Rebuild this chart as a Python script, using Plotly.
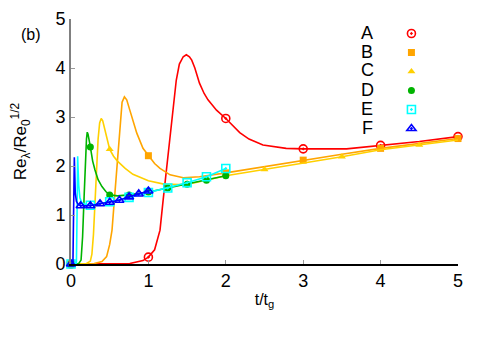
import plotly.graph_objects as go

# ---------------- data ----------------
series_names = ["A", "B", "C", "D", "E", "F"]

A_line_x = [0, 0.5, 0.76, 0.93, 1.0, 1.08, 1.15, 1.19, 1.23, 1.28, 1.32, 1.36, 1.40, 1.45, 1.49, 1.53, 1.56, 1.60, 1.66, 1.72, 1.77, 1.88, 2.0, 2.18, 2.3, 2.48, 2.78, 3.0, 3.56, 4.0, 4.5, 5.0]
A_line_y = [0, 0.0, 0.01, 0.07, 0.14, 0.29, 0.69, 1.3, 1.9, 2.53, 3.2, 3.75, 4.08, 4.23, 4.27, 4.23, 4.16, 4.0, 3.69, 3.48, 3.35, 3.14, 2.97, 2.68, 2.55, 2.43, 2.36, 2.35, 2.35, 2.42, 2.5, 2.6]
A_mark_x = [0, 1, 2, 3, 4, 5]
A_mark_y = [0, 0.14, 2.97, 2.35, 2.42, 2.6]

B_line_x = [0, 0.3, 0.4, 0.46, 0.5, 0.53, 0.55, 0.57, 0.59, 0.62, 0.66, 0.69, 0.72, 0.76, 0.8, 0.85, 0.93, 1.0, 1.08, 1.15, 1.28, 1.45, 1.66, 2.0, 2.5, 3.0, 3.5, 4.0, 4.5, 5.0]
B_line_y = [0, 0.01, 0.05, 0.15, 0.4, 0.69, 1.1, 1.51, 1.92, 2.6, 3.3, 3.41, 3.35, 3.14, 2.92, 2.67, 2.36, 2.21, 2.05, 1.95, 1.82, 1.76, 1.78, 1.86, 1.99, 2.12, 2.24, 2.36, 2.46, 2.56]
B_mark_x = [0, 1, 2, 3, 4, 5]
B_mark_y = [0, 2.21, 1.86, 2.12, 2.36, 2.56]

C_line_x = [0, 0.2, 0.25, 0.27, 0.29, 0.31, 0.33, 0.35, 0.37, 0.39, 0.41, 0.44, 0.47, 0.5, 0.55, 0.6, 0.7, 0.8, 1.0, 1.2, 1.4, 1.6, 2.0, 2.5, 3.0, 3.5, 4.0, 4.5, 5.0]
C_line_y = [0, 0.01, 0.06, 0.2, 0.6, 1.24, 1.95, 2.55, 2.88, 2.97, 2.92, 2.72, 2.5, 2.34, 2.2, 2.1, 1.95, 1.83, 1.7, 1.63, 1.62, 1.66, 1.8, 1.93, 2.05, 2.19, 2.33, 2.43, 2.53]
C_mark_x = [0, 0.5, 1.5, 2.5, 3.5, 4.5]
C_mark_y = [0, 2.34, 1.64, 1.93, 2.19, 2.43]

D_line_x = [0, 0.1, 0.13, 0.15, 0.17, 0.18, 0.2, 0.21, 0.22, 0.25, 0.28, 0.31, 0.35, 0.4, 0.45, 0.5, 0.6, 0.75, 1.0, 1.25, 1.5, 1.75, 2.0]
D_line_y = [0, 0.01, 0.08, 0.56, 1.4, 1.92, 2.55, 2.69, 2.65, 2.39, 2.1, 1.92, 1.72, 1.58, 1.48, 1.41, 1.39, 1.41, 1.47, 1.55, 1.63, 1.71, 1.80]
D_mark_x = [0, 0.25, 0.5, 0.75, 1.0, 1.25, 1.5, 1.75, 2.0]
D_mark_y = [0, 2.39, 1.41, 1.41, 1.47, 1.55, 1.63, 1.71, 1.80]

E_line_x = [0, 0.07, 0.078, 0.082, 0.086, 0.09, 0.1, 0.115, 0.14, 0.2, 0.25, 0.5, 0.75, 1.0, 1.25, 1.5, 1.75, 2.0]
E_line_y = [0, 0.02, 1.0, 2.0, 2.2, 2.0, 1.6, 1.35, 1.25, 1.21, 1.2, 1.27, 1.36, 1.46, 1.55, 1.66, 1.78, 1.95]
E_mark_x = [0, 0.25, 0.5, 0.75, 1.0, 1.25, 1.5, 1.75, 2.0]
E_mark_y = [0, 1.2, 1.27, 1.36, 1.46, 1.55, 1.66, 1.78, 1.95]

F_line_x = [0, 0.025, 0.033, 0.038, 0.043, 0.048, 0.055, 0.07, 0.09, 0.125, 0.25, 0.375, 0.5, 0.625, 0.75, 0.875, 1.0]
F_line_y = [0, 0.02, 1.0, 2.0, 2.18, 1.9, 1.45, 1.28, 1.22, 1.19, 1.19, 1.23, 1.26, 1.3, 1.37, 1.43, 1.49]
F_mark_x = [0, 0.125, 0.25, 0.375, 0.5, 0.625, 0.75, 0.875, 1.0]
F_mark_y = [0, 1.19, 1.19, 1.23, 1.26, 1.3, 1.37, 1.43, 1.49]

x_ticks = [0, 1, 2, 3, 4, 5]
y_ticks = [0, 1, 2, 3, 4, 5]

# ---------------- styling ----------------
colors = {"A": "#FF0000", "B": "#FFA500", "C": "#FFD000", "D": "#00B400", "E": "#00FFFF", "F": "#0000FF"}
symbols = {"A": "circle-open-dot", "B": "square", "C": "triangle-up", "D": "circle",
           "E": "square-open-dot", "F": "triangle-up-open-dot"}
msize = {"A": 8, "B": 7, "C": 7, "D": 7, "E": 8, "F": 8}

data = {
    "A": (A_line_x, A_line_y, A_mark_x, A_mark_y),
    "B": (B_line_x, B_line_y, B_mark_x, B_mark_y),
    "C": (C_line_x, C_line_y, C_mark_x, C_mark_y),
    "D": (D_line_x, D_line_y, D_mark_x, D_mark_y),
    "E": (E_line_x, E_line_y, E_mark_x, E_mark_y),
    "F": (F_line_x, F_line_y, F_mark_x, F_mark_y),
}

FONT = "Liberation Sans, Arial, sans-serif"
fig = go.Figure()
for name in series_names:
    lx, ly, mx, my = data[name]
    c = colors[name]
    fig.add_trace(go.Scatter(x=lx, y=ly, mode="lines", line=dict(color=c, width=1.6),
                             showlegend=False, cliponaxis=False, hoverinfo="skip"))
    open_sym = "open" in symbols[name]
    # legend entry shows only the symbol; the letter is drawn to its left
    fig.add_trace(go.Scatter(
        x=mx, y=my, mode="markers", name="", cliponaxis=False,
        marker=dict(symbol=symbols[name], size=msize[name], color=c,
                    line=dict(color=c, width=1.6 if open_sym else 0)),
    ))

fig.update_layout(
    width=493, height=345,
    margin=dict(l=71, r=35, t=19, b=81),
    plot_bgcolor="white", paper_bgcolor="white",
    font=dict(family=FONT, size=18, color="black"),
    showlegend=True,
    legend=dict(x=0.828, y=1.0, xanchor="left", yanchor="top",
                bgcolor="rgba(0,0,0,0)", font=dict(size=12),
                itemwidth=30),
    xaxis=dict(range=[0, 5], tickvals=x_ticks, ticks="inside", ticklen=4, tickcolor="#999999",
               showline=True, linecolor="black", linewidth=1.5, showgrid=False, zeroline=False,
               tickfont=dict(size=18), automargin=False,
               title=dict(text="t/t<sub>g</sub>", font=dict(size=16), standoff=3)),
    yaxis=dict(range=[0, 5], tickvals=y_ticks, ticks="inside", ticklen=4, tickcolor="#999999",
               showline=True, linecolor="#808080", linewidth=2, showgrid=False, zeroline=False,
               tickfont=dict(size=18), automargin=False,
               title=dict(text="Re<sub>λ</sub>/Re<sub>0</sub><sup>1/2</sup>", font=dict(size=17), standoff=24)),
    xaxis2=dict(range=[0, 5], tickvals=x_ticks, ticks="inside", ticklen=4, tickcolor="#999999",
                showline=True, linecolor="#808080", linewidth=2, showgrid=False, zeroline=False,
                showticklabels=False, overlaying="x", side="top", anchor="y"),
    yaxis2=dict(range=[0, 5], tickvals=y_ticks, ticks="inside", ticklen=4, tickcolor="#999999",
                showline=True, linecolor="black", linewidth=1.5, showgrid=False, zeroline=False,
                showticklabels=False, overlaying="y", side="right", anchor="x"),
)

# legend letters (text left of the legend symbols)
label_y = [0.943, 0.865, 0.790, 0.710, 0.633, 0.555]
for name, yy in zip(series_names, label_y):
    fig.add_annotation(text=name, xref="paper", yref="paper", x=0.765, y=yy,
                       xanchor="center", yanchor="middle", showarrow=False,
                       font=dict(size=18, family=FONT))

fig.add_annotation(text="(b)", xref="paper", yref="paper", x=-0.103, y=0.935,
                   xanchor="center", yanchor="middle", showarrow=False,
                   font=dict(size=16, family=FONT))

fig.write_html("out.html", config={"displayModeBar": False},
               post_script="document.body.style.margin='0';document.body.style.padding='0';")
